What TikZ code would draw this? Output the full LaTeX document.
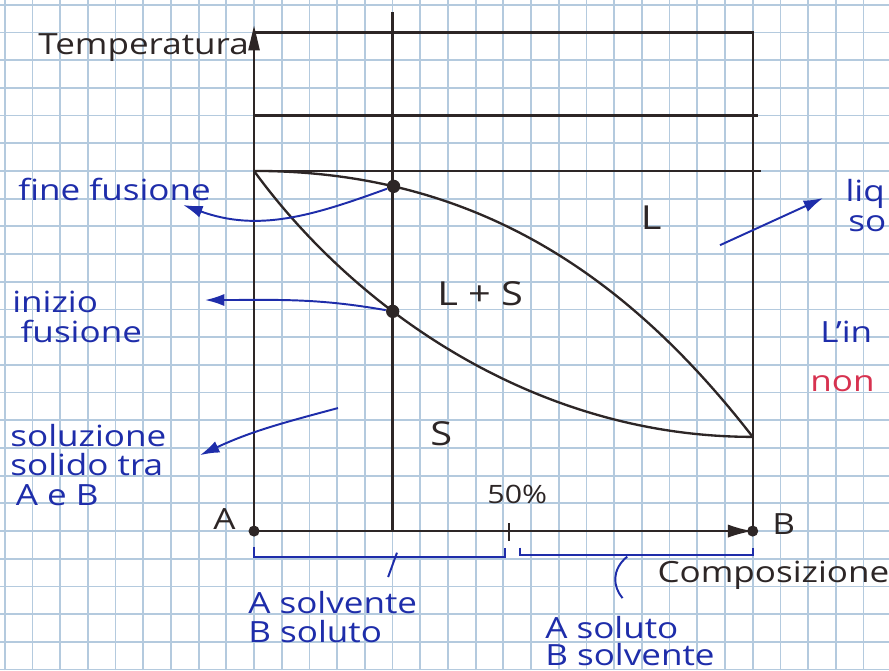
\documentclass[tikz,border=0pt]{standalone}
\usepackage{fontspec}
\setmainfont{Open Sans}[FakeStretch=1.2]
\usetikzlibrary{arrows.meta}
\definecolor{ink}{RGB}{30,45,170}
\definecolor{pencil}{RGB}{45,38,38}
\definecolor{squares}{RGB}{180,202,222}
\definecolor{crimson}{RGB}{215,50,80}

\begin{document}
\begin{tikzpicture}[x=0.5cm,y=0.5cm,
    frame/.style={pencil,line width=1.2pt},
    note/.style={ink,line width=1pt,-{Latex[length=3.5mm,width=2.2mm]}},
    dot/.style={circle,fill=pencil,inner sep=0pt,minimum size=2.4mm},
    hand/.style={font=\fontsize{15}{15}\selectfont,text=pencil,anchor=base west,inner sep=0pt},
    bluehand/.style={font=\fontsize{15}{15}\selectfont,text=ink,align=left,anchor=base west,inner sep=0pt}]
    \useasboundingbox (-9.17,-5.02) rectangle (22.92,19.17);
    \fill[white] (-9.17,-5.02) rectangle (22.92,19.17);
    \draw[squares,line width=0.9pt,step=0.5cm] (-9.17,-5.02) grid (22.92,19.17);
    % axes and frame
    \coordinate (A) at (0,0);
    \coordinate (B) at (18,0);
    \draw[frame,-{Triangle[length=4.5mm,width=2mm]}] (A) -- (0,18.25);
    \draw[frame,-{Latex[length=4.5mm,width=2.4mm]}] (A) -- (B);
    \draw[frame] (0,18) -- (18,18) -- (B);
    \draw[frame] (0,15) -- (18.2,15);
    \draw[frame] (0,13) -- (18.3,13);
    \draw[frame] (5,0) -- (5,18.75);
    \draw[frame] (9.2,-0.35) -- (9.2,0.3);
    \node[dot,minimum size=2mm] (Adot) at (A) {};
    \node[dot,minimum size=2mm] (Bdot) at (B) {};
    % liquidus and solidus
    \coordinate (mA) at (0,13);
    \coordinate (mB) at (18,3.4);
    \draw[frame] (mA) .. controls (8,13) and (13.5,9.2) .. coordinate[pos=0.225] (ff) (mB);
    \draw[frame] (mA) .. controls (3.53,8.15) and (10,3.4) .. coordinate[pos=0.367] (if) (mB);
    \node[dot] (ffdot) at (ff) {};
    \node[dot] (ifdot) at (if) {};
    % black labels
    \node[hand] (temp) at (-7.8,17.2) {Temperatura};
    \node[hand,font=\fontsize{17}{17}\selectfont] (lab L) at (13.95,10.87) {L};
    \node[hand,font=\fontsize{17}{17}\selectfont] (lab LS) at (6.6,8.16) {L + S};
    \node[hand,font=\fontsize{17}{17}\selectfont] (lab S) at (6.35,3.1) {S};
    \node[hand,font=\fontsize{13}{13}\selectfont] (half) at (8.41,1.01) {50\%};
    \node[hand] (lab A) at (-1.48,0.04) {A};
    \node[hand] (lab B) at (18.7,-0.14) {B};
    \node[hand] (comp) at (14.55,-1.84) {Composizione};
    % blue notes
    \node[bluehand] (fine) at (-8.52,11.95) {fine fusione};
    \coordinate (fineEnd) at (-2.56,11.77);
    \draw[note] (ffdot) to[out=200,in=-20] (fineEnd);
    \node[bluehand] (inizio) at (-8.74,6.82) {inizio\\\hspace*{1.5mm}fusione};
    \coordinate (inizioEnd) at (-1.77,8.34);
    \draw[note] (ifdot) to[out=170,in=0] (inizioEnd);
    \node[bluehand] (solsol) at (-8.81,0.94) {soluzione\\solido tra\\\hspace*{1mm}A e B};
    \coordinate (solStart) at (3.03,4.44);
    \coordinate (solEnd) at (-1.95,2.74);
    \draw[note] (solStart) to[out=195,in=25] (solEnd);
    \coordinate (liqStart) at (16.82,10.32);
    \coordinate (liqEnd) at (20.54,12.02);
    \draw[note] (liqStart) -- (liqEnd);
    \node[bluehand] (liq) at (21.34,11.88) {liq};
    \node[bluehand] (so) at (21.44,10.8) {so};
    \node[bluehand] (lin) at (20.43,6.82) {L'in};
    \node[bluehand,text=crimson] (non) at (20.07,5.02) {non};
    % brackets under the composition axis
    \draw[ink,line width=1pt] (0,-0.57) -- (0,-0.93) -- (9.06,-0.93) -- (9.06,-0.6);
    \draw[ink,line width=1pt] (9.6,-0.6) -- (9.6,-0.88) -- (18,-0.88) -- (18,-0.6);
    \coordinate (brA) at (5.16,-0.78);
    \coordinate (brAend) at (4.84,-1.66);
    \draw[ink,line width=1pt] (brA) -- (brAend);
    \coordinate (brB) at (13.47,-0.92);
    \coordinate (brBend) at (13.3,-2.42);
    \draw[ink,line width=1pt] (brB) .. controls (12.9,-1.4) and (12.95,-2.0) .. (brBend);
    \node[bluehand] (solvA) at (-0.22,-4.04) {A solvente\\B soluto};
    \node[bluehand,font=\fontsize{15}{14}\selectfont] (solvB) at (10.5,-4.85) {A soluto\\B solvente};
\end{tikzpicture}
\end{document}
